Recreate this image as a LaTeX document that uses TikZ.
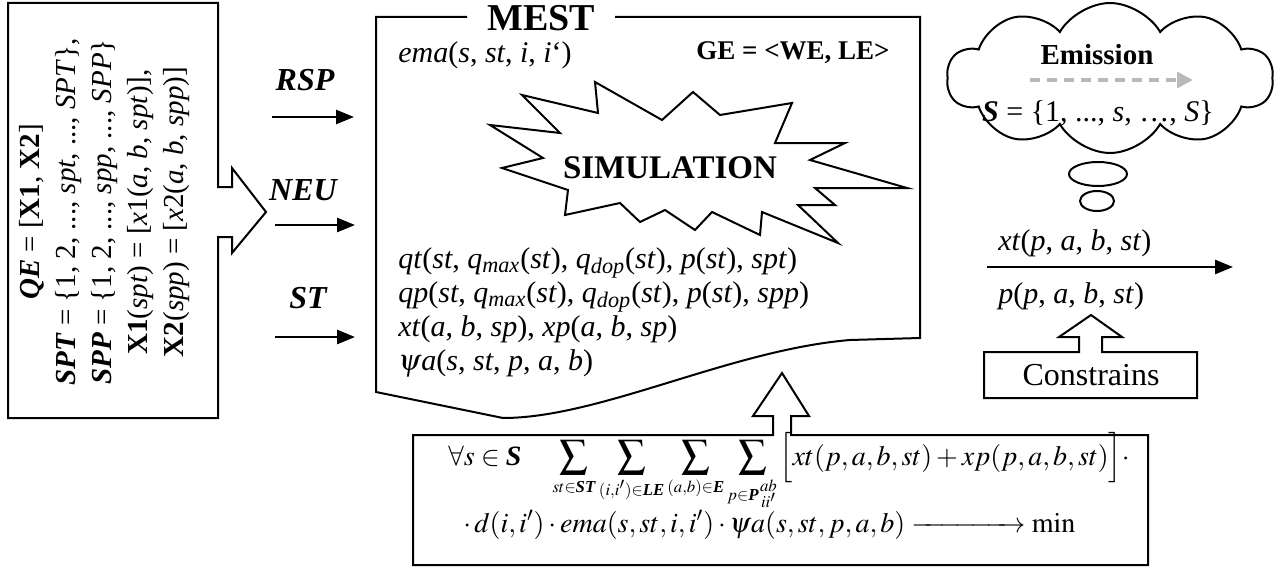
\documentclass[tikz,border=0pt]{standalone}
\usepackage{amsmath}
\usepackage{mathptmx}
\usepackage[no-math]{fontspec}
\setmainfont{Liberation Serif}
\usetikzlibrary{arrows.meta,shapes.symbols}

\newcommand{\bi}[1]{\textbf{\textit{#1}}}
\newcommand{\vi}[1]{\textit{#1}}

\begin{document}
\begin{tikzpicture}[x=0.5pt, y=-0.5pt,
    outline/.style={line width=1pt, line join=miter},
    flow/.style={line width=1.3pt, -{Triangle[length=9pt,width=7pt]}},
    body/.style={font=\fontsize{15}{17}\selectfont, inner sep=0pt},
    goal/.style={font=\fontsize{14}{16}\selectfont, inner sep=0pt, anchor=base west},
    tag/.style={font=\bfseries\itshape\fontsize{16}{16}\selectfont, inner sep=0pt}]
    \useasboundingbox (0,0) rectangle (1279,567);

    % Left box: QE definitions, with its block arrow
    \draw[outline] (8,3) -- (218,3) -- (218,187) -- (232,187) -- (232,168) -- (266,212)
        -- (232,253) -- (232,237) -- (218,237) -- (218,418) -- (8,418) -- cycle;
    \node[rotate=90, align=center, inner sep=0pt, font=\fontsize{14.5}{18}\selectfont] (qe) at (105,212)
        {\bi{QE} = [\textbf{X1}, \textbf{X2}]\\
         \bi{SPT} = \{1, 2, ..., \vi{spt}, ..., \vi{SPT}\},\\
         \bi{SPP} = \{1, 2, ..., \vi{spp}, ..., \vi{SPP}\}\\
         \textbf{X1}(\vi{spt}) = [\vi{x}1(\vi{a}, \vi{b}, \vi{spt})],\\
         \textbf{X2}(\vi{spp}) = [\vi{x}2(\vi{a}, \vi{b}, \vi{spp})]};

    % Inputs RSP, NEU, ST
    \coordinate (rspA) at (272,117); \coordinate (rspB) at (354,117);
    \coordinate (neuA) at (275,225); \coordinate (neuB) at (355,225);
    \coordinate (stA) at (275,337);  \coordinate (stB) at (355,337);
    \draw[flow] (rspA) -- (rspB);
    \draw[flow] (neuA) -- (neuB);
    \draw[flow] (stA) -- (stB);
    \node[tag] (rsp) at (305,80) {RSP};
    \node[tag] (neu) at (303,190) {NEU};
    \node[tag] (st) at (308,298) {ST};

    % MEST document shape
    \draw[outline] (467,17) -- (376,17) -- (376,392) -- (503,418)
        .. controls (600,418) and (730,350) .. (850,340) -- (920,338) -- (920,17) -- (615,17);
    \node[anchor=base, inner sep=0pt, font=\bfseries\fontsize{19}{19}\selectfont] (mest) at (541,31) {MEST};
    \node[body, anchor=base west] (ema) at (398,63) {\vi{ema}(\vi{s}, \vi{st}, \vi{i}, \vi{i}‘)};
    \node[anchor=base east, inner sep=0pt, font=\bfseries\fontsize{13.5}{14}\selectfont] (ge) at (890,60) {GE = <WE, LE>};

    % Starburst
    \draw[outline] (838,243) -- (798,205) -- (835,205) -- (815,188) -- (907,188) -- (810,160)
        -- (845,143) -- (775,143) -- (792,103) -- (720,115) -- (693,92) -- (662,120) -- (595,82)
        -- (598,113) -- (522,95) -- (560,133) -- (490,125) -- (543,158) -- (502,168) -- (568,190)
        -- (565,215) -- (620,203) -- (640,222) -- (665,210) -- (695,230) -- (712,212) -- (760,235)
        -- (762,212) -- cycle;
    \node[inner sep=0pt, font=\bfseries\fontsize{16.5}{17}\selectfont] (sim) at (670,168) {SIMULATION};

    % Variables of the model
    \node[body, anchor=base west] (vqt) at (398,268)
        {\vi{qt}(\vi{st}, \vi{q}\textsubscript{\vi{max}}(\vi{st}), \vi{q}\textsubscript{\vi{dop}}(\vi{st}), \vi{p}(\vi{st}), \vi{spt})};
    \node[body, anchor=base west] (vqp) at (398,302)
        {\vi{qp}(\vi{st}, \vi{q}\textsubscript{\vi{max}}(\vi{st}), \vi{q}\textsubscript{\vi{dop}}(\vi{st}), \vi{p}(\vi{st}), \vi{spp})};
    \node[body, anchor=base west] (vxt) at (398,336)
        {\vi{xt}(\vi{a}, \vi{b}, \vi{sp}), \vi{xp}(\vi{a}, \vi{b}, \vi{sp})};
    \node[body, anchor=base west] (vpsi) at (398,370)
        {$\psi$\vi{a}(\vi{s}, \vi{st}, \vi{p}, \vi{a}, \vi{b})};

    % Emission cloud
    \node[cloud, draw, line width=1pt, cloud puffs=10, cloud puff arc=120, aspect=2.17,
        minimum width=163pt, minimum height=75pt, inner sep=0pt] (cloud) at (1110,78) {};
    \node[inner sep=0pt, font=\bfseries\fontsize{14.5}{15}\selectfont] (emis) at (1097,55) {Emission};
    \coordinate (emA) at (1030,80); \coordinate (emB) at (1193,80);
    \draw[gray!55, line width=1.6pt, dash pattern=on 5pt off 3.5pt, -{Triangle[length=8pt,width=8pt]}] (emA) -- (emB);
    \node[body] (sset) at (1098,113)
        {\bi{S} = \{1, ..., \vi{s}, \dots, \vi{S}\}};
    \draw[outline] (1098,174) ellipse [x radius=14.5pt, y radius=6pt];
    \draw[outline] (1097,201) ellipse [x radius=8.5pt, y radius=5pt];

    % Output arrow
    \coordinate (outA) at (987,267); \coordinate (outB) at (1233,267);
    \draw[flow] (outA) -- (outB);
    \node[body, anchor=base west] (oxt) at (998,250) {\vi{xt}(\vi{p}, \vi{a}, \vi{b}, \vi{st})};
    \node[body, anchor=base west] (op) at (998,303) {\vi{p}(\vi{p}, \vi{a}, \vi{b}, \vi{st})};

    % Constrains box with block arrow
    \draw[outline] (984,352) -- (1079,352) -- (1079,337) -- (1059,337) -- (1091,315) -- (1122,337)
        -- (1102,337) -- (1102,352) -- (1197,352) -- (1197,398) -- (984,398) -- cycle;
    \node[inner sep=0pt, font=\fontsize{16}{16}\selectfont] (cons) at (1091,375) {Constrains};

    % Objective function box with block arrow
    \draw[outline] (413,435) -- (773,435) -- (773,416) -- (753,416) -- (782,373) -- (809,416)
        -- (791,416) -- (791,435) -- (1148,435) -- (1148,565) -- (413,565) -- cycle;
    \node[goal] (goal1) at (448,465)
        {$\forall s\in\bi{S}\quad\displaystyle\sum_{\scriptscriptstyle st\in\bi{ST}}\sum_{\scriptscriptstyle (i,i')\in\bi{LE}}\sum_{\scriptscriptstyle (a,b)\in\bi{E}}\sum_{\scriptscriptstyle p\in\bi{P}\mkern-1mu\genfrac{}{}{0pt}{3}{ab}{ii'}}\Bigl[xt(p,a,b,st)+xp(p,a,b,st)\Bigr]\cdot$};
    \node[goal] (goal2) at (463,532)
        {$\cdot\, d(i,i')\cdot ema(s,st,i,i')\cdot\psi a(s,st,p,a,b)\xrightarrow{\hspace{3.5em}}\min$};
\end{tikzpicture}
\end{document}
